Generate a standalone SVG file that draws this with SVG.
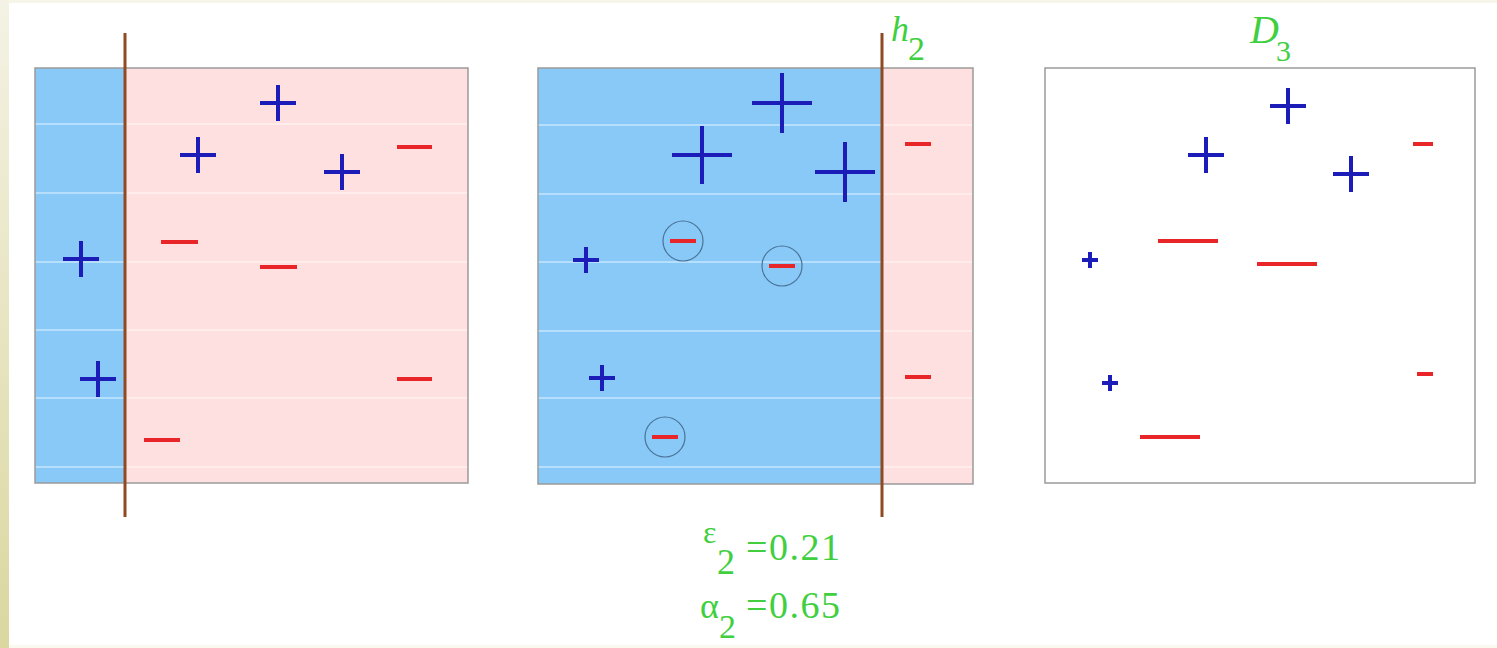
<svg xmlns="http://www.w3.org/2000/svg" width="1497" height="648" viewBox="0 0 1497 648">
<style>
.blue{fill:#88c9f8}
.pink{fill:#fde0df}
.frame{fill:none;stroke:#9a9a9a;stroke-width:1.5}
.stripeB{stroke:#c4e6fd;stroke-width:1.5}
.stripeP{stroke:#fff0f0;stroke-width:1.5}
.sep{stroke:#8f4a22;stroke-width:3}
.plus{fill:none;stroke:#1c1cb8;stroke-width:4}
.minus{fill:none;stroke:#e8262a;stroke-width:4}
.ring{fill:none;stroke:#4a7296;stroke-width:1.2}
.lbl{font-family:"Liberation Serif","Times New Roman",serif;fill:#3fcf3f}
.it{font-style:italic}
</style>
<defs>
<linearGradient id="edge" x1="0" y1="0" x2="0" y2="1">
<stop offset="0" stop-color="#f4f2e4"/>
<stop offset="1" stop-color="#dbd7a0"/>
</linearGradient>
</defs>
<rect x="0" y="0" width="1497" height="648" fill="#ffffff"/>
<rect x="0" y="0" width="1497" height="3" fill="#f7f5e9"/>
<rect x="0" y="645" width="1497" height="3" fill="#faf9f0"/>
<rect x="0" y="0" width="9" height="648" fill="url(#edge)"/>

<g id="panel1">
<rect class="blue" x="35" y="68" width="90" height="415"/>
<rect class="pink" x="125" y="68" width="343" height="415"/>
<path class="stripeB" d="M35 124H125M35 193H125M35 262H125M35 330H125M35 398H125M35 467H125"/>
<path class="stripeP" d="M127 124H468M127 193H468M127 262H468M127 330H468M127 398H468M127 467H468"/>
<rect class="frame" x="35" y="68" width="433" height="415"/>
<line class="sep" x1="125" y1="33" x2="125" y2="517"/>
<path class="plus" d="M260 103H296M278 85V121M180 155H216M198 137V173M324 172H360M342 154V190M63 259H99M81 241V277M80 379H116M98 361V397"/>
<path class="minus" d="M397 147H432M161 242H198M260 267H297M397 379H432M144 440H180"/>
</g>

<g id="panel2">
<rect class="blue" x="538" y="68" width="344" height="416"/>
<rect class="pink" x="882" y="68" width="91" height="416"/>
<path class="stripeB" d="M538 125H882M538 194H882M538 262H882M538 331H882M538 398H882M538 467H882"/>
<path class="stripeP" d="M884 125H973M884 194H973M884 262H973M884 331H973M884 398H973M884 467H973"/>
<rect class="frame" x="538" y="68" width="435" height="416"/>
<line class="sep" x1="882" y1="33" x2="882" y2="517"/>
<path class="plus" d="M752 103H812M782 73V133M672 155H732M702 126V184M815 172H875M845 142V202M573 260H599M586 247V273M589 378H615M602 365V391"/>
<circle class="ring" cx="683" cy="241" r="20"/>
<circle class="ring" cx="782" cy="266" r="20"/>
<circle class="ring" cx="665" cy="437" r="20"/>
<path class="minus" d="M670 241H696M769 266H795M652 437H678M905 144H931M905 377H931"/>
<text class="lbl it" x="891" y="41" font-size="36">h</text>
<text class="lbl" x="908" y="60" font-size="34">2</text>
</g>

<g id="panel3">
<rect x="1045" y="68" width="430" height="415" fill="#ffffff"/>
<rect class="frame" x="1045" y="68" width="430" height="415"/>
<path class="plus" d="M1270 106H1306M1288 88V124M1188 155H1224M1206 137V173M1333 174H1369M1351 156V192M1082 260H1098M1090 252V268M1102 383H1118M1110 375V391"/>
<path class="minus" d="M1158 241H1218M1140 437H1200M1417 374H1433"/>
<path class="minus" stroke-width="2.5" d="M1257 264H1317M1413 144H1433"/>
<text class="lbl it" x="1250" y="43" font-size="40">D</text>
<text class="lbl" x="1276" y="61" font-size="30">3</text>
</g>

<g id="stats">
<text class="lbl" x="703" y="543" font-size="32">ε</text>
<text class="lbl" x="717" y="574" font-size="36">2</text>
<text class="lbl" x="746" y="560" font-size="38" letter-spacing="1.5">=0.21</text>
<text class="lbl" x="700" y="618" font-size="36">α</text>
<text class="lbl" x="719" y="638" font-size="34">2</text>
<text class="lbl" x="746" y="618" font-size="38" letter-spacing="1.5">=0.65</text>
</g>
</svg>
